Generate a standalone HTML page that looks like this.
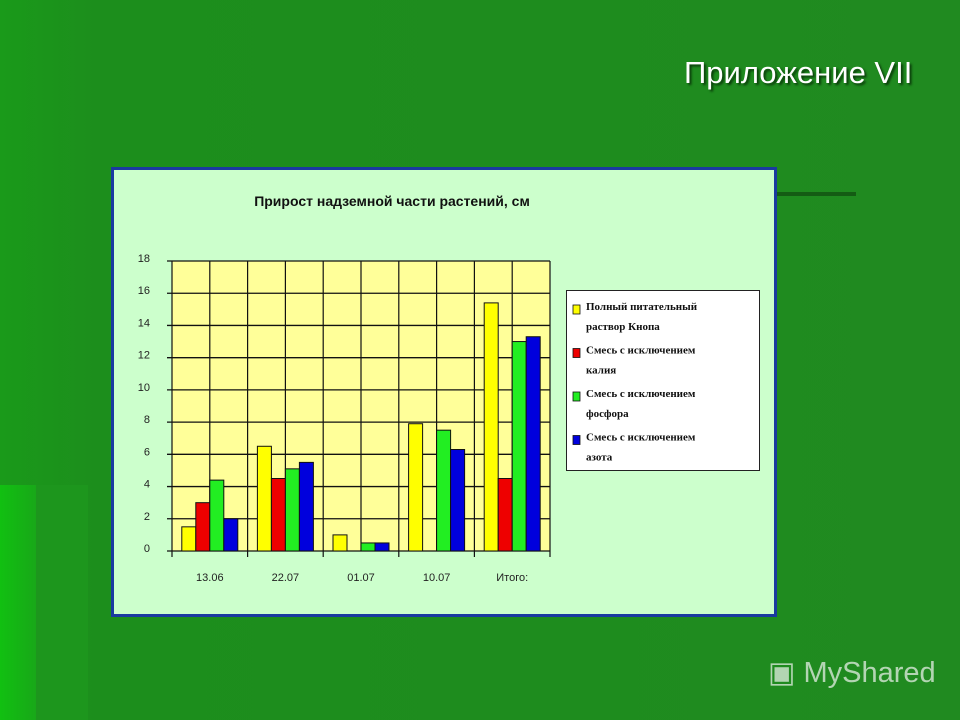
<!DOCTYPE html>
<html><head><meta charset="utf-8"><style>
body{margin:0;width:960px;height:720px;overflow:hidden;font-family:"Liberation Sans",sans-serif;}
#bg{position:absolute;left:0;top:0;width:960px;height:720px;background:linear-gradient(90deg,#1a9a1a 0%,#1c8e1c 10%,#208a20 100%);}
</style></head><body>
<div id="bg"></div>
<div style="position:absolute;left:0;top:485px;width:36px;height:235px;background:linear-gradient(90deg,#11c011,#18a818)"></div>
<div style="position:absolute;left:36px;top:485px;width:52px;height:235px;background:#1d961d"></div>
<div style="position:absolute;left:684px;top:55px;font-size:31px;color:#fff;text-shadow:2px 2px 2px #0a3a0a;">Приложение VII</div>
<svg width="960" height="720" style="position:absolute;left:0;top:0">
<line x1="777" y1="194" x2="856" y2="194" stroke="#145c14" stroke-width="4"/>
<rect x="112.5" y="168.5" width="663" height="447" fill="#ccffcc" stroke="#1a3aa0" stroke-width="3"/>
<text x="392" y="206" font-size="14" font-weight="bold" text-anchor="middle" fill="#111">Прирост надземной части растений, см</text>
<g id="plot"></g>
<g>
<rect x="566.5" y="290.5" width="193" height="180" fill="#fff" stroke="#222"/>
</g>
<g id="leg"></g>
</svg>
<script>
const categories=["13.06","22.07","01.07","10.07","Итого:"];
const s1=[1.5,6.5,1,7.9,15.4];
const s2=[3,4.5,0,0,4.5];
const s3=[4.4,5.1,0.5,7.5,13];
const s4=[2,5.5,0.5,6.3,13.3];
const yTicks=[0,2,4,6,8,10,12,14,16,18];
const seriesNames=[["Полный питательный","раствор Кнопа"],["Смесь с исключением","калия"],["Смесь с исключением","фосфора"],["Смесь с исключением","азота"]];
const colors=["#ffff00","#ee0000","#22ee22","#0000dd"];
const NS="http://www.w3.org/2000/svg";
const X0=172,X1=550,Y0=551,Y1=261,ymax=18;
const y=v=>Y0-(v/ymax)*(Y0-Y1);
const cw=(X1-X0)/categories.length;
const g=document.getElementById('plot');
function el(t,a,p){const e=document.createElementNS(NS,t);for(const k in a)e.setAttribute(k,a[k]);(p||g).appendChild(e);return e;}
let r=el('rect',{x:X0,y:Y1,width:X1-X0,height:Y0-Y1,fill:'#ffff99'});


yTicks.forEach(t=>{
 let l=el('line',{x1:X0-5,x2:X1,y1:y(t),y2:y(t),stroke:'#111','stroke-width':1.3});
 
 
 let tx=el('text',{x:150,y:y(t)+1,'font-size':11,'text-anchor':'end',fill:'#222'});tx.textContent=t;
 
 
});
for(let i=0;i<=categories.length*2;i++){
 const xx=X0+i*cw/2;
 let l=el('line',{x1:xx,x2:xx,y1:Y1,y2:Y0+(i%2==0?6:0),stroke:'#111','stroke-width':1.2});
 
 
}
const series=[s1,s2,s3,s4];
const bw=14;
categories.forEach((c,i)=>{
 const gx=X0+i*cw+(cw-4*bw)/2;
 series.forEach((s,j)=>{
  if(s[i]<=0)return;
  let b=el('rect',{x:gx+j*bw,y:y(s[i]),width:bw,height:Y0-y(s[i]),fill:colors[j],stroke:'#111','stroke-width':1});
  
  
 });
 let t=el('text',{x:X0+i*cw+cw/2,y:581,'font-size':11,'text-anchor':'middle',fill:'#222'});t.textContent=c;
 
 
});
const lg=document.getElementById('leg');
seriesNames.forEach((n,j)=>{
 const yy=302+j*43.5;
 let sw=el('rect',{x:573,y:yy+3,width:7,height:9,fill:colors[j],stroke:'#111','stroke-width':0.8},lg);
 
 
 let t=el('text',{x:586,y:yy+8,'font-size':11,'font-weight':'bold','font-family':'Liberation Serif, serif',fill:'#111'},lg);t.textContent=n[0];
 
 
 let t2=el('text',{x:586,y:yy+28,'font-size':11,'font-weight':'bold','font-family':'Liberation Serif, serif',fill:'#111'},lg);t2.textContent=n[1];
 
 
});
</script>
<div style="position:absolute;left:768px;top:655px;color:#d8e8d8;font-size:29px;opacity:0.8">▣ MyShared</div>
</body></html>
